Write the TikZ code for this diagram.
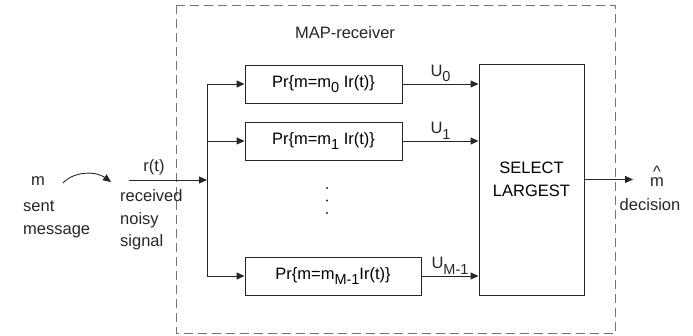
\documentclass[tikz,border=0pt]{standalone}
\usepackage{fontspec}
\setmainfont{Liberation Sans}
\usetikzlibrary{arrows.meta}
\newcommand\sbx[1]{\raisebox{-0.6ex}{\fontsize{14.5}{14}\selectfont #1}}
\begin{document}
\begin{tikzpicture}[x=1pt,y=-1pt,
  font=\fontsize{16.5}{22.5}\selectfont,
  line/.style={draw=black!85, line width=0.9pt},
  arr/.style={line, -{Triangle[length=8pt,width=7pt]}},
  blk/.style={line, fill=white, inner sep=0pt},
  lbl/.style={inner sep=0pt, text=black!85},
]
\useasboundingbox (0,0) rectangle (693,335);
% dashed receiver frame
\draw[black!55, line width=0.9pt, dash pattern=on 9pt off 5pt] (176,5) rectangle (615,333.5);
\node[lbl] (map) at (345,33) {MAP-receiver};

% blocks
\node[blk, minimum width=157pt, minimum height=38pt] (p0) at (323.5,84) {Pr\{m=m\sbx{0} Ir(t)\}};
\node[blk, minimum width=157pt, minimum height=38pt] (p1) at (323.5,141) {Pr\{m=m\sbx{1} Ir(t)\}};
\node[blk, minimum width=176pt, minimum height=38pt] (pM) at (333,276) {Pr\{m=m\sbx{M-1}Ir(t)\}};
\node[blk, minimum width=105pt, minimum height=231pt, align=center] (sel) at (531.5,179.5) {SELECT\\LARGEST};

% dots
\fill[black!85] (327,188) circle (1.2pt) (327,200.5) circle (1.2pt) (327,213) circle (1.2pt);

% input side
\node[lbl] (m) at (38,181) {m};
\node[lbl, anchor=west, align=left, font=\fontsize{16.5}{23}\selectfont] (sent) at (23,219) {sent\\message};
\coordinate (ca) at (63,183);
\coordinate (cb) at (111,182);
\draw[arr] (ca) .. controls (74,171) and (96,171) .. (cb);

\coordinate (rin) at (129,180);
\coordinate (split) at (207,180);
\node[lbl] (rt) at (154,167) {r(t)};
\node[lbl, anchor=west, align=left] (rns) at (120,220) {received\\noisy\\signal};
\draw[arr] (rin) -- (split);
\draw[arr] (split) |- (p0.west);
\draw[arr] (split) |- (p1.west);
\draw[arr] (split) |- (pM.west);

% outputs to selector
\draw[arr] (p0.east) -- node[lbl, above=1.5pt] {U\sbx{0}} (p0.east -| sel.west);
\draw[arr] (p1.east) -- node[lbl, above=1.5pt] {U\sbx{1}} (p1.east -| sel.west);
\draw[arr] (pM.east) -- node[lbl, above=1.5pt] {U\sbx{M-1}} (pM.east -| sel.west);

% decision
\coordinate (out) at (633,179.5);
\draw[arr] (sel.east) -- (out);
\node[lbl, align=center, font=\fontsize{16.5}{9}\selectfont, anchor=base] (mhat) at (657,186.3) {\textasciicircum\\m};
\node[lbl] (dec) at (650,205) {decision};
\end{tikzpicture}
\end{document}
